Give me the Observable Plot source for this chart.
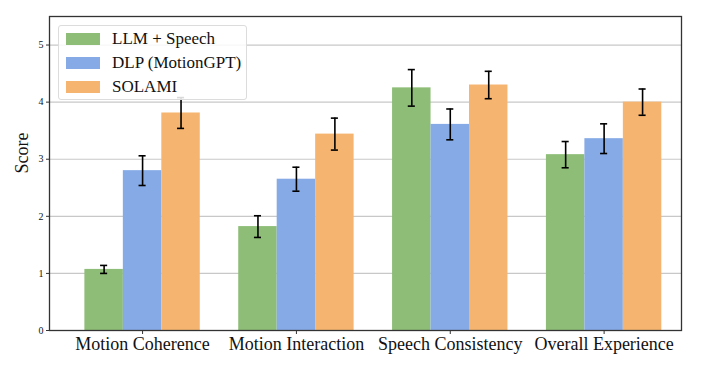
<!DOCTYPE html>
<html>
<head>
<meta charset="utf-8">
<script src="https://cdn.jsdelivr.net/npm/d3@7"></script>
<script src="https://cdn.jsdelivr.net/npm/@observablehq/plot@0.6"></script>
<style>
  body { margin: 0; background: #fff; }
  #wrap { position: relative; width: 704px; height: 370px; font-family: "Liberation Serif", "DejaVu Serif", serif; }
  #legend { position: absolute; left: 58px; top: 25px; width: 189px; height: 75px; box-sizing: border-box;
    border: 1px solid #dcdcdc; border-radius: 3px; background: rgba(255,255,255,0.85); }
  .item { position: absolute; left: 0; height: 20px; display: flex; align-items: center; font-size: 17px; color: #111; }
  .sw { width: 34px; height: 12px; margin-left: 7px; margin-right: 12px; }
</style>
</head>
<body>
<div id="wrap"><div id="chart"></div><div id="legend"></div></div>
<script>
const categories = ["Motion Coherence", "Motion Interaction", "Speech Consistency", "Overall Experience"];
const methods = ["LLM + Speech", "DLP (MotionGPT)", "SOLAMI"];
const colors = ["#8dbd76", "#86aae6", "#f5b570"];
const llmSpeech = [1.07, 1.82, 4.25, 3.08];
const llmSpeechErr = [0.07, 0.19, 0.32, 0.23];
const dlp = [2.80, 2.65, 3.61, 3.36];
const dlpErr = [0.26, 0.21, 0.27, 0.26];
const solami = [3.81, 3.44, 4.30, 4.00];
const solamiErr = [0.27, 0.28, 0.24, 0.23];
const yTicks = [0, 1, 2, 3, 4, 5];

const seriesVals = [llmSpeech, dlp, solami];
const seriesErr = [llmSpeechErr, dlpErr, solamiErr];
const barW = 0.25;
const rows = [];
methods.forEach((m, s) => {
  categories.forEach((c, i) => {
    const cx = i + (s - 1) * barW;
    rows.push({method: m, cat: c, x1: cx - barW / 2, x2: cx + barW / 2, cx,
      value: seriesVals[s][i], lo: seriesVals[s][i] - seriesErr[s][i], hi: seriesVals[s][i] + seriesErr[s][i]});
  });
});
const capHalf = 0.023;

const chart = Plot.plot({
  width: 704,
  height: 370,
  marginLeft: 49,
  marginRight: 23,
  marginTop: 16,
  marginBottom: 40,
  style: {fontFamily: "'Liberation Serif', 'DejaVu Serif', serif", color: "#111", background: "#fff"},
  x: {type: "linear", domain: [-0.605, 3.503]},
  y: {domain: [0, 5.5]},
  color: {domain: methods, range: colors},
  marks: [
    Plot.ruleY(yTicks.filter(d => d > 0), {stroke: "#c8c8c8", strokeWidth: 1.2}),
    Plot.rectY(rows, {x1: "x1", x2: "x2", y1: 0, y2: "value", fill: "method"}),
    Plot.ruleX(rows, {x: "cx", y1: "lo", y2: "hi", stroke: "#000", strokeWidth: 1.6}),
    Plot.ruleY(rows, {y: "lo", x1: d => d.cx - capHalf, x2: d => d.cx + capHalf, stroke: "#000", strokeWidth: 1.6}),
    Plot.ruleY(rows, {y: "hi", x1: d => d.cx - capHalf, x2: d => d.cx + capHalf, stroke: "#000", strokeWidth: 1.6}),
    Plot.frame({stroke: "#333", strokeWidth: 1.3}),
    Plot.axisY({ticks: yTicks, tickFormat: d3.format("d"), tickSize: 3, tickPadding: 3, fontSize: 10, label: null, stroke: "#333"}),
    Plot.axisX({ticks: [0, 1, 2, 3], tickFormat: i => categories[i], tickSize: 4, tickPadding: 3, fontSize: 18, label: null, stroke: "#333"}),
    Plot.text(["Score"], {frameAnchor: "left", rotate: -90, dx: -27, fontSize: 18, fill: "#111"})
  ]
});
document.getElementById("chart").appendChild(chart);

const legend = document.getElementById("legend");
methods.forEach((m, s) => {
  const it = document.createElement("div");
  it.className = "item";
  it.style.top = (2.5 + s * 24.3) + "px";
  const sw = document.createElement("div");
  sw.className = "sw";
  sw.style.background = colors[s];
  const tx = document.createElement("span");
  tx.textContent = m;
  it.appendChild(sw);
  it.appendChild(tx);
  legend.appendChild(it);
});
</script>
</body>
</html>
